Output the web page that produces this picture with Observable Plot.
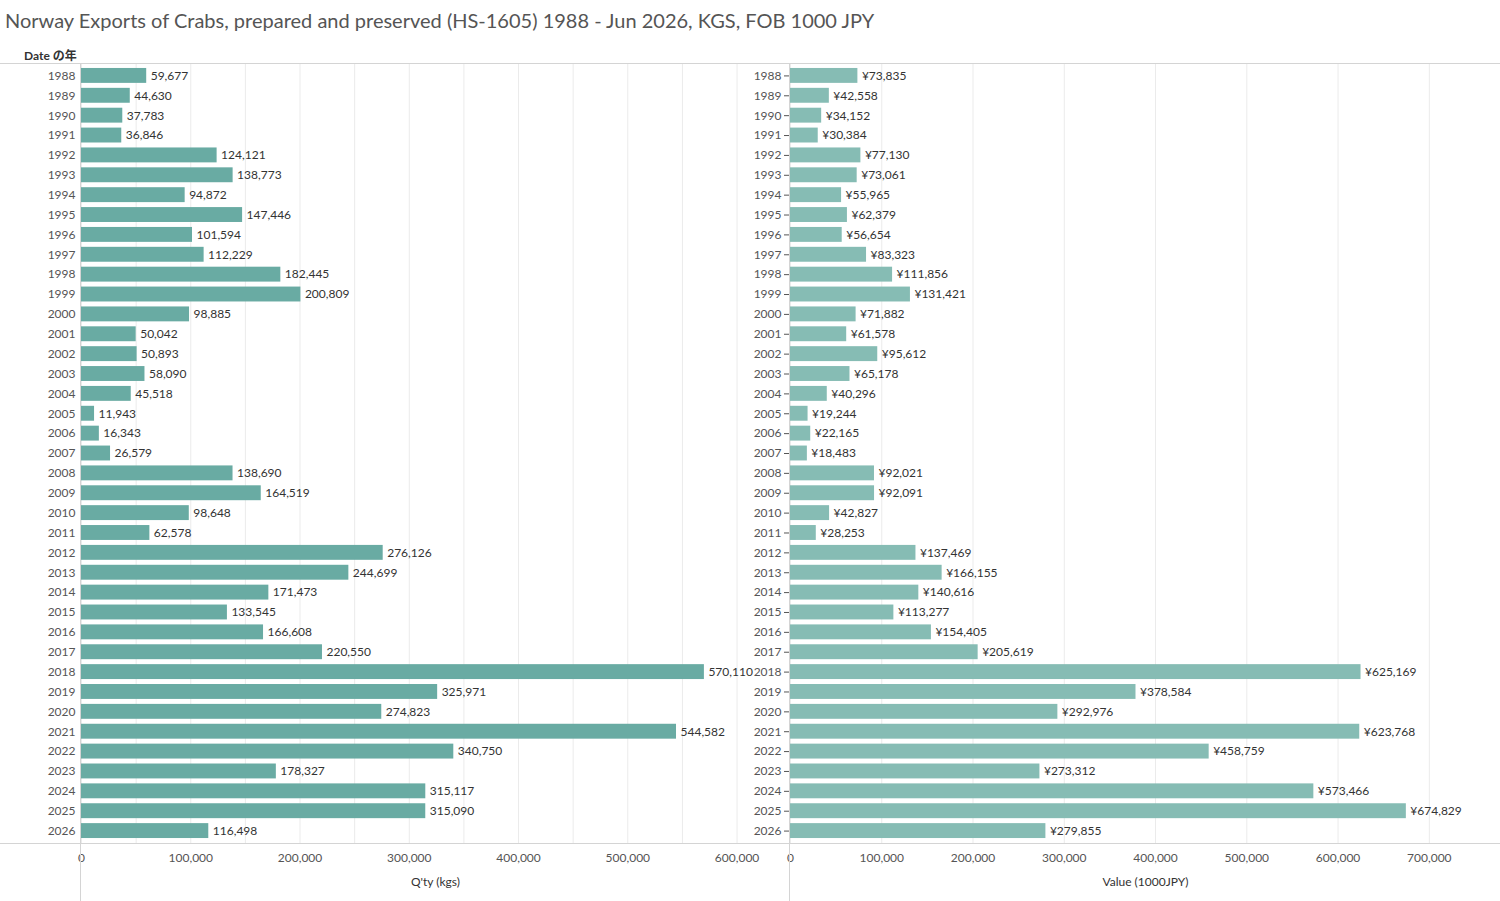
<!DOCTYPE html>
<html><head><meta charset="utf-8">
<script src="https://cdn.jsdelivr.net/npm/d3@7"></script>
<script src="https://cdn.jsdelivr.net/npm/@observablehq/plot@0.6"></script>
<style>
body{margin:0;font-family:Lato,"Noto Sans CJK JP",sans-serif;background:#fff;width:1500px;height:901px;position:relative;overflow:hidden}
#title{position:absolute;left:5px;top:8px;font-size:20px;color:#555;white-space:nowrap}
#hdr{position:absolute;left:24px;top:46px;font-size:12px;color:#333;font-weight:bold}
#l{position:absolute;left:0;top:63px}
#r{position:absolute;left:789px;top:63px}
svg{overflow:visible}
.ln{position:absolute;background:#d4d4d4}
</style></head><body>
<div id="title">Norway Exports of Crabs, prepared and preserved (HS-1605) 1988 - Jun 2026, KGS, FOB 1000 JPY</div>
<div id="hdr">Date の年</div>
<div id="l"></div><div id="r"></div>
<div class="ln" style="left:0;top:63px;width:1500px;height:1px"></div>
<div class="ln" style="left:0;top:843px;width:1500px;height:1px"></div>
<div class="ln" style="left:80px;top:63px;width:1px;height:838px"></div>
<div class="ln" style="left:789px;top:63px;width:1px;height:838px"></div>
<script>
const years = d3.range(1988, 2027).map(String);
const qty = [59677,44630,37783,36846,124121,138773,94872,147446,101594,112229,182445,200809,98885,50042,50893,58090,45518,11943,16343,26579,138690,164519,98648,62578,276126,244699,171473,133545,166608,220550,570110,325971,274823,544582,340750,178327,315117,315090,116498];
const val = [73835,42558,34152,30384,77130,73061,55965,62379,56654,83323,111856,131421,71882,61578,95612,65178,40296,19244,22165,18483,92021,92091,42827,28253,137469,166155,140616,113277,154405,205619,625169,378584,292976,623768,458759,273312,573466,674829,279855];
const qd = years.map((y,i)=>({year:y,v:qty[i]}));
const vd = years.map((y,i)=>({year:y,v:val[i]}));
const common = {height:838, marginTop:0, marginBottom:58, marginRight:0,
  style:{fontFamily:"Lato, sans-serif", fontSize:"12px", color:"#555", background:"transparent"},
  y:{domain:years, padding:0.25, label:null}};
const f = d3.format(",");
document.getElementById("l").append(Plot.plot({...common, width:789, marginLeft:81,
  x:{domain:[0,648000], label:null, ticks:d3.range(0,650000,50000), tickFormat:d=>d/1000+"K"},
  marks:[
    Plot.gridX(d3.range(0,650000,50000),{stroke:"#ebebeb",strokeOpacity:1}),
    Plot.barX(qd,{x:"v",y:"year",fill:"#69aba3"}),
    Plot.text(qd,{x:"v",y:"year",text:d=>f(d.v),textAnchor:"start",dx:4,fill:"#333",fontSize:12}),
    Plot.axisY({tickSize:0,tickPadding:6,fontSize:12}),
    Plot.axisX({tickSize:0,tickPadding:10,fontSize:12,label:null}),
    Plot.text(["Q'ty (kgs)"],{frameAnchor:"bottom",dy:42,fill:"#333",fontSize:12})
  ]}));
document.getElementById("r").append(Plot.plot({...common, width:711, marginLeft:1,
  x:{domain:[0,778000], label:null, ticks:d3.range(0,800000,100000), tickFormat:d=>"¥"+f(d)},
  marks:[
    Plot.gridX(d3.range(0,800000,100000),{stroke:"#ebebeb",strokeOpacity:1}),
    Plot.barX(vd,{x:"v",y:"year",fill:"#86bcb4"}),
    Plot.text(vd,{x:"v",y:"year",text:d=>"¥"+f(d.v),textAnchor:"start",dx:4,fill:"#333",fontSize:12}),
    Plot.axisX({tickSize:0,tickPadding:10,fontSize:12,label:null}),
    Plot.text(["Value (1000JPY)"],{frameAnchor:"bottom",dy:42,fill:"#333",fontSize:12})
  ]}));
</script></body></html>
